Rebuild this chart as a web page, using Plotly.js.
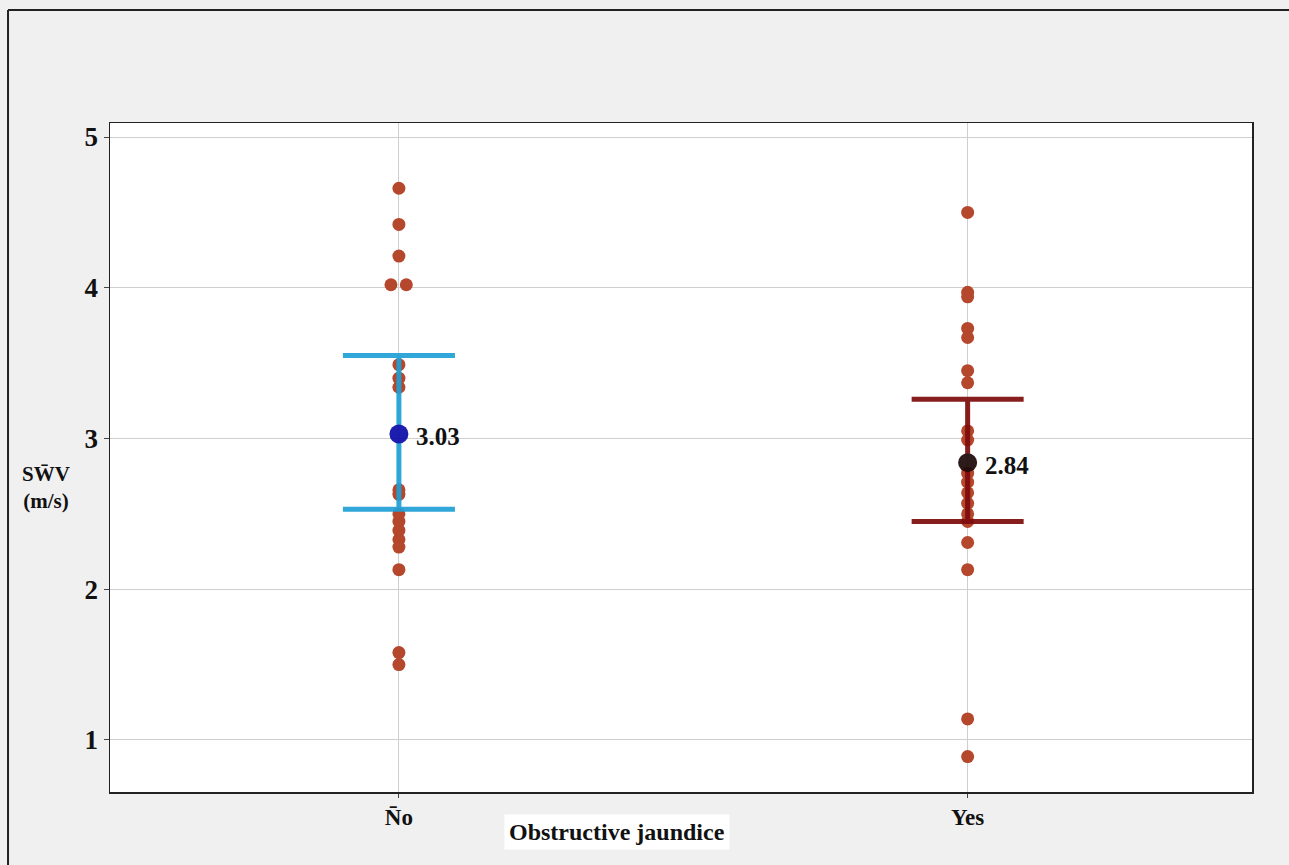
<!DOCTYPE html>
<html>
<head>
<meta charset="utf-8">
<script src="https://cdn.plot.ly/plotly-3.0.1.min.js"></script>
<style>
html,body{margin:0;padding:0;background:#f0f0f0;}
#chart{width:1289px;height:865px;}
</style>
</head>
<body>
<div id="chart"></div>
<script>
// Data
var categories = ['No', 'Yes'];
var tickLabels = ['N\u0304o', 'Yes'];
var noValues = [4.66, 4.42, 4.21, 4.02, 4.02, 3.49, 3.40, 3.34, 2.66, 2.63, 2.50, 2.45, 2.39, 2.33, 2.28, 2.13, 1.58, 1.50];
var noJitter = [0, 0, 0, -0.014, 0.013, 0, 0, 0, 0, 0, 0, 0, 0, 0, 0, 0, 0, 0];
var yesValues = [4.50, 3.97, 3.94, 3.73, 3.67, 3.45, 3.37, 3.05, 2.99, 2.77, 2.71, 2.64, 2.57, 2.50, 2.45, 2.31, 2.13, 1.14, 0.89];
var yesJitter = [0, 0, 0, 0, 0, 0, 0, 0, 0, 0, 0, 0, 0, 0, 0, 0, 0, 0, 0];
var means = [3.03, 2.84];
var upper = [3.55, 3.26];
var lower = [2.53, 2.45];
var meanLabels = ['3.03', '2.84'];

var font = '"Liberation Serif", "Times New Roman", serif';
var pointColor = '#b5472c';
var barColors = ['#1f9fd6', '#7d0b0b'];
var meanColors = ['#0a0aa8', '#1c0808'];

function xs(idx, jit) { return jit.map(function (j) { return idx + j; }); }

var traces = [];
traces.push({
  x: xs(0, noJitter), y: noValues, type: 'scatter', mode: 'markers',
  marker: {color: pointColor, size: 13}, hoverinfo: 'y', showlegend: false
});
traces.push({
  x: xs(1, yesJitter), y: yesValues, type: 'scatter', mode: 'markers',
  marker: {color: pointColor, size: 13}, hoverinfo: 'y', showlegend: false
});
var annotations = [];
for (var i = 0; i < 2; i++) {
  traces.push({
    x: [i], y: [means[i]], type: 'scatter', mode: 'markers',
    marker: {color: meanColors[i], size: 19},
    error_y: {type: 'data', symmetric: false, array: [upper[i] - means[i]], arrayminus: [means[i] - lower[i]],
      color: barColors[i], thickness: 5, width: 56},
    opacity: 0.92,
    showlegend: false, hoverinfo: 'y'
  });
  annotations.push({
    xref: 'x', yref: 'y', x: i, y: means[i], text: '<b>' + meanLabels[i] + '</b>',
    xanchor: 'left', yanchor: 'middle', xshift: 15, yshift: -3, showarrow: false,
    font: {family: font, size: 25, color: '#111'}
  });
}
annotations.push(
  {text: '<b>Obstructive jaundice</b>', xref: 'paper', yref: 'paper', x: 0.444, y: -0.06,
   xanchor: 'center', yanchor: 'middle', showarrow: false, bgcolor: '#ffffff', borderpad: 4,
   font: {family: font, size: 24, color: '#111'}},
  {text: '<b>SW\u0304V</b><br><b>(m/s)</b>', xref: 'paper', yref: 'paper', x: -0.056, y: 0.455,
   xanchor: 'center', yanchor: 'middle', showarrow: false, align: 'center',
   font: {family: font, size: 21, color: '#111'}}
);

var layout = {
  width: 1289, height: 865,
  paper_bgcolor: '#f0f0f0', plot_bgcolor: '#ffffff',
  margin: {l: 110, r: 37, t: 123, b: 73},
  font: {family: font, color: '#111'},
  xaxis: {
    range: [-0.508, 1.5], tickvals: [0, 1], ticktext: tickLabels,
    tickfont: {family: font, size: 23, color: '#111', weight: 'bold'},
    showgrid: true, gridcolor: '#cfcfcf', gridwidth: 1,
    zeroline: false, showline: true, linecolor: '#222', linewidth: 1.5, mirror: true,
    ticks: 'outside', ticklen: 4, tickcolor: '#444'
  },
  yaxis: {
    range: [0.655, 5.093], tickvals: [1, 2, 3, 4, 5],
    tickfont: {family: font, size: 27, color: '#111', weight: 'bold'},
    showgrid: true, gridcolor: '#cfcfcf', gridwidth: 1,
    zeroline: false, showline: true, linecolor: '#222', linewidth: 1.5, mirror: true,
    ticks: 'outside', ticklen: 5, tickcolor: '#444'
  },
  annotations: annotations,
  shapes: [
    {type: 'line', xref: 'paper', yref: 'paper', x0: -0.0893, x1: 1.04, y0: 1.169, y1: 1.169,
     line: {color: '#222', width: 2}},
    {type: 'line', xref: 'paper', yref: 'paper', x0: -0.0893, x1: -0.0893, y0: 1.169, y1: -0.12,
     line: {color: '#222', width: 2}}
  ]
};

Plotly.newPlot('chart', traces, layout, {displayModeBar: false, staticPlot: true});
</script>
</body>
</html>
